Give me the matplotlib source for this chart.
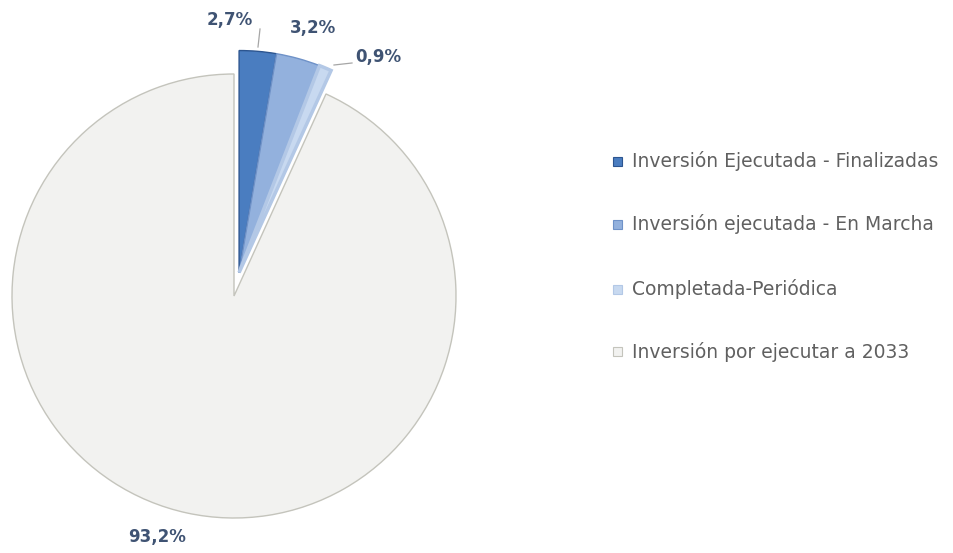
import numpy as np
import matplotlib.pyplot as plt
from matplotlib.patches import Rectangle

# data
categories = ['Inversión Ejecutada - Finalizadas',
              'Inversión ejecutada - En Marcha',
              'Completada-Periódica',
              'Inversión por ejecutar a 2033']
shares = [2.7, 3.2, 0.9, 93.2]
pct_labels = ['2,7%', '3,2%', '0,9%', '93,2%']

colors = ['#4a7dc0', '#93b1dd', '#c8d9f0', '#f2f2f0']
edges = ['#2c5590', '#6f92c8', '#b3c8e6', '#c4c4bc']

W, H = 954, 553
CX, CY, R = 234, 296, 222
fig = plt.figure(figsize=(W / 100, H / 100), dpi=100)
ax = fig.add_axes([0, 0, 1, 1])

# axes work in pixel units with y pointing down, so the pie runs
# counter-clockwise in data terms to look clockwise on screen
wedges, _ = ax.pie(shares, colors=colors, radius=R, center=(CX, CY),
                   startangle=-90, counterclock=True,
                   wedgeprops=dict(linewidth=1.0))
for w, ec in zip(wedges, edges):
    w.set_edgecolor(ec)
wedges[2].set_linewidth(2.5)

# pull the three small slices out together, as one block
mid = np.deg2rad(90 - 3.6 * sum(shares[:3]) / 2)
dx, dy = 24 * np.cos(mid), -24 * np.sin(mid)
for w in wedges[:3]:
    w.set_center((CX + dx, CY + dy))

ax.set_xlim(0, W)
ax.set_ylim(H, 0)
ax.set_aspect('equal')
ax.axis('off')

# data labels
lab_pos = [(230, 20), (313, 28), (378, 57), (157, 537)]
for txt, (x, y) in zip(pct_labels, lab_pos):
    ax.text(x, y, txt, ha='center', va='center', fontsize=12,
            fontweight='bold', color='#3f5373')

# leader lines
ax.plot([260, 258], [29, 47], color='#a6a6a6', lw=0.9)
ax.plot([352, 334], [63, 65], color='#a6a6a6', lw=0.9)

# legend
rows = [161, 224, 289, 352]
for name, fc, ec, y in zip(categories, colors, edges, rows):
    ax.add_patch(Rectangle((613, y - 4.5), 9, 9, facecolor=fc,
                           edgecolor=ec, lw=0.8))
    ax.text(632, y, name, ha='left', va='center', fontsize=13.5,
            color='#606060')

fig.savefig('out.png', dpi=100, facecolor='white')
